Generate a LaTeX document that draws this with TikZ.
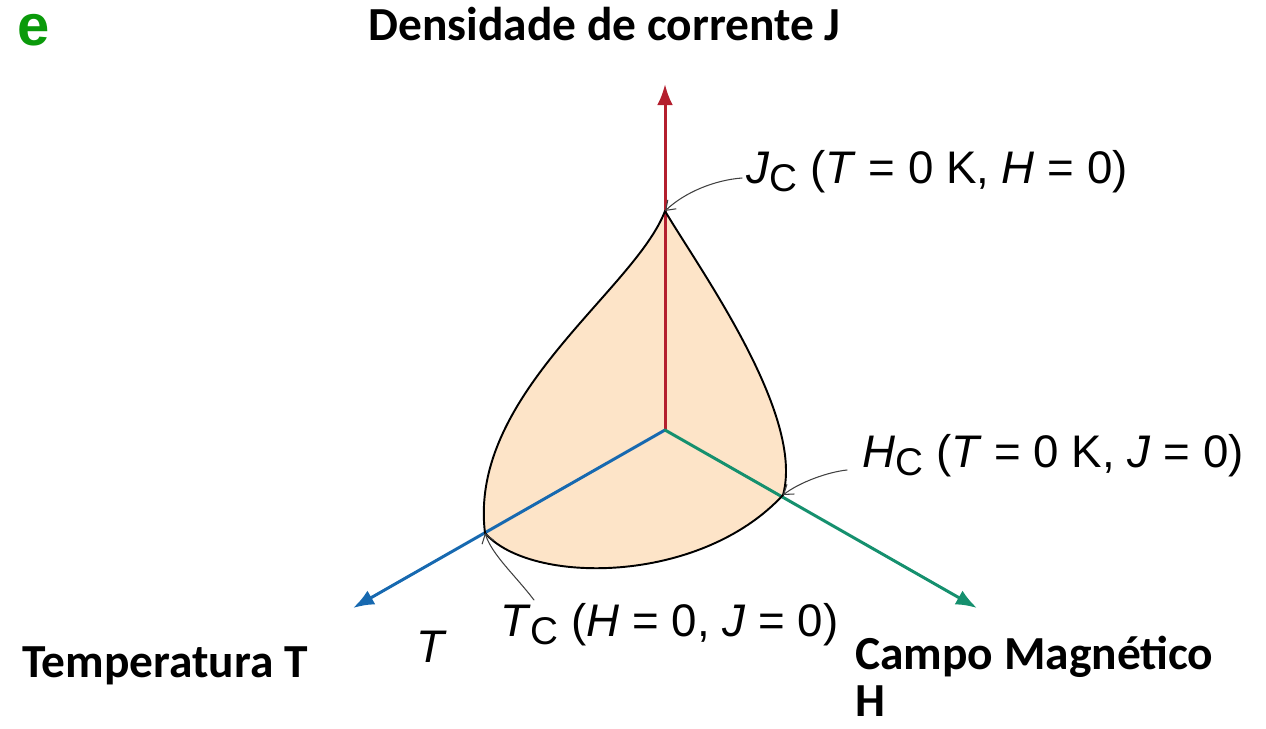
\documentclass[tikz,border=0pt]{standalone}
\usepackage{fontspec}
\setmainfont{Liberation Sans}
\newfontfamily\headfont{Carlito}
\usetikzlibrary{arrows.meta}
\definecolor{jred}{HTML}{B41F2E}
\definecolor{tblue}{HTML}{1769B0}
\definecolor{hgreen}{HTML}{15906E}
\definecolor{peach}{HTML}{FDE4C8}
\definecolor{egreen}{HTML}{0A9A0A}
\newcommand{\lowC}{\raisebox{-0.35ex}{\fontsize{22}{22}\selectfont C}}
\begin{document}
\begin{tikzpicture}[x=0.02cm,y=-0.02cm,line cap=round,line join=round,
  axis/.style={line width=1.7pt,-{Latex[length=12pt,width=9pt]}},
  leader/.style={black!75,line width=0.6pt,-{Straight Barb[length=5pt,width=7pt]}},
  lbl/.style={font=\fontsize{26}{26}\selectfont,inner sep=0pt,anchor=base west},
  head/.style={font=\headfont\bfseries\fontsize{27}{27}\selectfont,inner sep=0pt,anchor=base west}]
  \useasboundingbox (0,0) rectangle (1266,728);

  \coordinate (o) at (665,430);
  \coordinate (jc) at (665,211);
  \coordinate (tc) at (485,533);
  \coordinate (hc) at (783,495);
  \coordinate (jtip) at (665,84);
  \coordinate (ttip) at (353,608);
  \coordinate (htip) at (977,608);

  \fill[peach] (jc) .. controls (635,290) and (468,395) .. (tc)
    .. controls (530,585) and (700,585) .. (hc)
    .. controls (805,415) and (700,270) .. (jc);

  \draw[axis,jred] (o) -- (jtip);
  \draw[axis,tblue] (o) -- (ttip);
  \draw[axis,hgreen] (o) -- (htip);

  \draw[line width=1.1pt] (jc) .. controls (635,290) and (468,395) .. (tc)
    .. controls (530,585) and (700,585) .. (hc)
    .. controls (805,415) and (700,270) .. (jc);

  \node[lbl] (jclbl) at (746,183) {\textit{J}\lowC\ (\textit{T} = 0 K, \textit{H} = 0)};
  \node[lbl] (hclbl) at (862,467) {\textit{H}\lowC\ (\textit{T} = 0 K, \textit{J} = 0)};
  \node[lbl] (tclbl) at (500,636) {\textit{T}\lowC\ (\textit{H} = 0, \textit{J} = 0)};
  \node[lbl] (tlbl) at (416,662) {\textit{T}};

  \coordinate (jcfrom) at (742,178);
  \coordinate (hcfrom) at (847,470);
  \coordinate (tcfrom) at (534,600);
  \draw[leader] (jcfrom) .. controls (715,180) and (685,192) .. (jc);
  \draw[leader] (hcfrom) .. controls (828,472) and (800,482) .. (hc);
  \draw[leader] (tcfrom) .. controls (515,575) and (492,555) .. (tc);

  \node[head,text=egreen,font=\bfseries\fontsize{33}{33}\selectfont] (tag) at (17,45) {e};
  \node[head] (jhead) at (368,40) {Densidade de corrente J};
  \node[head] (thead) at (22,677) {Temperatura T};
  \node[head] (hhead) at (855,669) {Campo Magnético};
  \node[head] (hhead2) at (855,716) {H};
\end{tikzpicture}
\end{document}
